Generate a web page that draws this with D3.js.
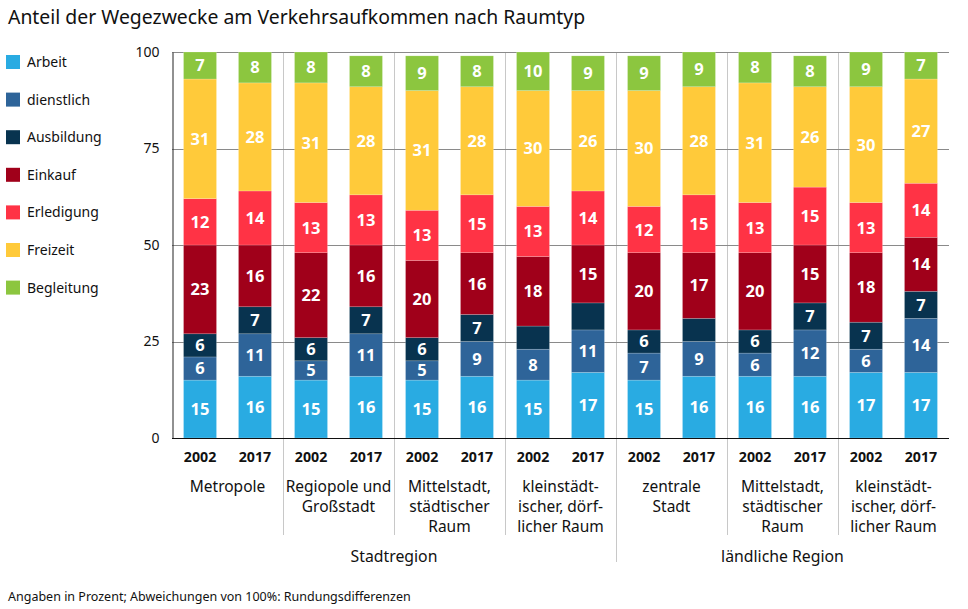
<!DOCTYPE html>
<html>
<head>
<meta charset="utf-8">
<script src="https://cdn.jsdelivr.net/npm/d3@7"></script>
<style>
  html, body { margin: 0; padding: 0; background: #fff; }
  svg { display: block; font-family: "Noto Sans", "Open Sans", sans-serif; }
</style>
</head>
<body>
<svg id="chart" width="968" height="609"></svg>
<script>
// ---------- data ----------
const title = "Anteil der Wegezwecke am Verkehrsaufkommen nach Raumtyp";
const footnote = "Angaben in Prozent; Abweichungen von 100%: Rundungsdifferenzen";
const seriesNames = ["Arbeit", "dienstlich", "Ausbildung", "Einkauf", "Erledigung", "Freizeit", "Begleitung"];
const seriesColors = ["#29abe2", "#2e6499", "#08334f", "#a0001a", "#ff3345", "#ffca3a", "#8cc63f"];
const years = ["2002", "2017"];
const groupLabels = [
  ["Metropole"],
  ["Regiopole und", "Großstadt"],
  ["Mittelstadt,", "städtischer", "Raum"],
  ["kleinstädt-", "ischer, dörf-", "licher Raum"],
  ["zentrale", "Stadt"],
  ["Mittelstadt,", "städtischer", "Raum"],
  ["kleinstädt-", "ischer, dörf-", "licher Raum"]
];
const regionLabels = ["Stadtregion", "ländliche Region"];
const regionGroups = [[0, 3], [4, 6]];
const yTicks = [0, 25, 50, 75, 100];

// values per series, bar order: group0 2002, group0 2017, group1 2002, ...
const arbeit     = [15, 16, 15, 16, 15, 16, 15, 17, 15, 16, 16, 16, 17, 17];
const dienstlich = [6, 11, 5, 11, 5, 9, 8, 11, 7, 9, 6, 12, 6, 14];
const ausbildung = [6, 7, 6, 7, 6, 7, 6, 7, 6, 6, 6, 7, 7, 7];
const einkauf    = [23, 16, 22, 16, 20, 16, 18, 15, 20, 17, 20, 15, 18, 14];
const erledigung = [12, 14, 13, 13, 13, 15, 13, 14, 12, 15, 13, 15, 13, 14];
const freizeit   = [31, 28, 31, 28, 31, 28, 30, 26, 30, 28, 31, 26, 30, 27];
const begleitung = [7, 8, 8, 8, 9, 8, 10, 9, 9, 9, 8, 8, 9, 7];
// segments shown without a value label: [bar index, series index]
const hiddenLabels = [[6, 2], [7, 2], [9, 2]];

const seriesValues = [arbeit, dienstlich, ausbildung, einkauf, erledigung, freizeit, begleitung];

// ---------- build table ----------
const bars = [];
groupLabels.forEach((g, gi) => {
  years.forEach((yr, yi) => {
    const idx = gi * 2 + yi;
    const row = { idx, group: gi, year: yr };
    seriesNames.forEach((s, si) => row[s] = seriesValues[si][idx]);
    bars.push(row);
  });
});

const svg = d3.select("#chart");
const pLeft = 172, pRight = 949, pTop = 52, pBottom = 438;

const y = d3.scaleLinear().domain([0, 100]).range([pBottom, pTop]);
const xGroup = d3.scaleBand().domain(d3.range(groupLabels.length)).range([pLeft, pRight]);
const xYear = d3.scaleBand().domain(years).range([0, xGroup.bandwidth()]).paddingInner(0.4).paddingOuter(0.21);

// title
svg.append("text").attr("x", 8).attr("y", 24).attr("font-size", 19.4).attr("fill", "#111").text(title);

// legend
const legend = svg.append("g");
seriesNames.forEach((s, i) => {
  const yy = 62 + i * 37.6;
  legend.append("rect").attr("x", 6).attr("y", yy - 7).attr("width", 14).attr("height", 14).attr("fill", seriesColors[i]);
  legend.append("text").attr("x", 27).attr("y", yy + 5).attr("font-size", 14).attr("fill", "#111").text(s);
});

// group separators
const sepG = svg.append("g");
for (let gi = 1; gi < groupLabels.length; gi++) {
  const xx = Math.round(xGroup(gi)) + 0.5;
  const isRegionBoundary = regionGroups.some(r => r[0] === gi);
  sepG.append("line").attr("x1", xx).attr("x2", xx).attr("y1", pTop).attr("y2", isRegionBoundary ? 562 : 535)
    .attr("stroke", "#c8c8c8").attr("stroke-width", 1);
}

// gridlines
svg.append("g").selectAll("line").data(yTicks.filter(d => d > 0)).join("line")
  .attr("x1", pLeft).attr("x2", pRight)
  .attr("y1", d => Math.round(y(d)) + 0.5).attr("y2", d => Math.round(y(d)) + 0.5)
  .attr("stroke", "#8a8a8a").attr("stroke-width", 1);

// y axis
const yAxis = svg.append("g").attr("transform", `translate(${pLeft + 0.5},0)`)
  .call(d3.axisLeft(y).tickValues(yTicks).tickSize(0).tickPadding(13));
yAxis.select(".domain").attr("stroke", "#222");
yAxis.selectAll("text").attr("font-size", 14).attr("fill", "#111").attr("font-family", "Noto Sans, sans-serif");

// stacks
const stack = d3.stack().keys(seriesNames);
const stacked = stack(bars);

const barG = svg.append("g");
stacked.forEach((layer, si) => {
  barG.append("g").selectAll("rect").data(layer).join("rect")
    .attr("x", d => xGroup(d.data.group) + xYear(d.data.year))
    .attr("width", xYear.bandwidth())
    .attr("y", d => y(d[1]))
    .attr("height", d => y(d[0]) - y(d[1]))
    .attr("fill", seriesColors[si])
    .attr("stroke", "rgba(255,255,255,0.3)").attr("stroke-width", 0.6);
});

// labels
const labelG = svg.append("g");
stacked.forEach((layer, si) => {
  layer.forEach(d => {
    const hidden = hiddenLabels.some(h => h[0] === d.data.idx && h[1] === si);
    if (hidden) return;
    labelG.append("text")
      .attr("x", xGroup(d.data.group) + xYear(d.data.year) + xYear.bandwidth() / 2)
      .attr("y", (y(d[0]) + y(d[1])) / 2)
      .attr("dy", "0.36em")
      .attr("text-anchor", "middle")
      .attr("font-size", 16.5).attr("font-weight", "bold").attr("fill", "#fff")
      .text(d[1] - d[0]);
  });
});

// x baseline
svg.append("line").attr("x1", pLeft).attr("x2", pRight).attr("y1", pBottom + 0.5).attr("y2", pBottom + 0.5)
  .attr("stroke", "#111").attr("stroke-width", 1.2);

// year labels
bars.forEach(b => {
  svg.append("text")
    .attr("x", xGroup(b.group) + xYear(b.year) + xYear.bandwidth() / 2)
    .attr("y", 462).attr("text-anchor", "middle")
    .attr("font-size", 14.2).attr("font-weight", "bold").attr("fill", "#111")
    .text(b.year);
});

// group labels
groupLabels.forEach((lines, gi) => {
  lines.forEach((ln, li) => {
    svg.append("text")
      .attr("x", xGroup(gi) + xGroup.bandwidth() / 2)
      .attr("y", 492 + li * 20).attr("text-anchor", "middle")
      .attr("font-size", 15.5).attr("fill", "#111").text(ln);
  });
});

// region labels
regionLabels.forEach((r, ri) => {
  const [a, b] = regionGroups[ri];
  const cx = (xGroup(a) + xGroup(b) + xGroup.bandwidth()) / 2;
  svg.append("text").attr("x", cx).attr("y", 562).attr("text-anchor", "middle")
    .attr("font-size", 15.8).attr("fill", "#111").text(r);
});

// footnote
svg.append("text").attr("x", 8).attr("y", 601).attr("font-size", 12.5).attr("fill", "#111").text(footnote);
</script>
</body>
</html>
